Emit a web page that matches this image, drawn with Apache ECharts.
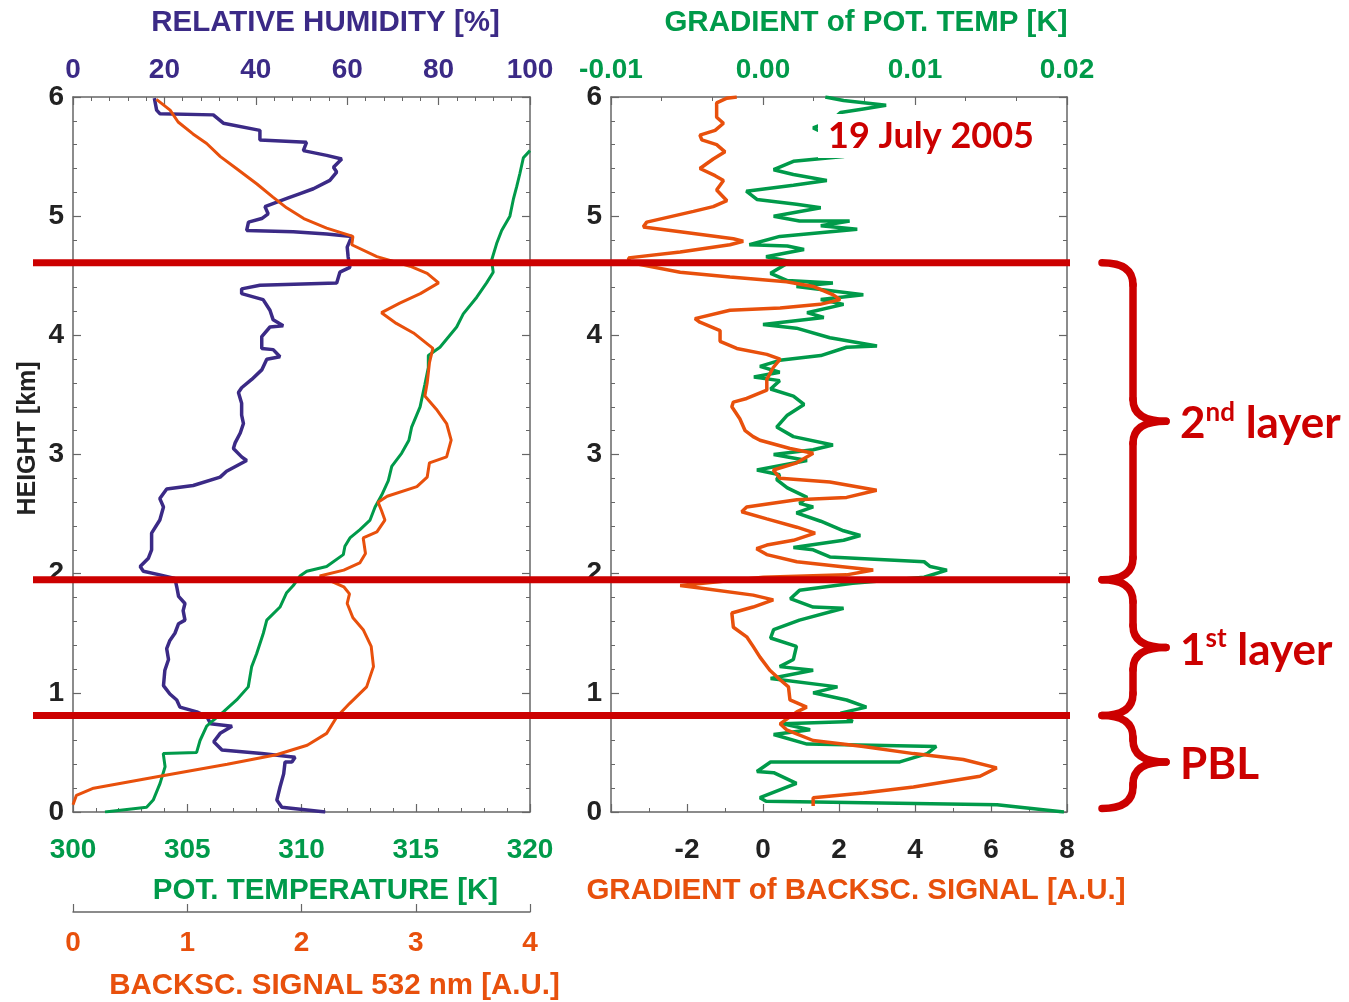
<!DOCTYPE html>
<html>
<head>
<meta charset="utf-8">
<script src="https://cdn.jsdelivr.net/npm/echarts@6/dist/echarts.min.js"></script>
<style>
  html, body { margin: 0; padding: 0; background: #fff; }
  #chart { width: 1349px; height: 1002px; }
</style>
</head>
<body>
<div id="chart"></div>
<script>
// 相对湿度 [%]
const rhHeight = [5.99, 5.89, 5.86, 5.85, 5.78, 5.72, 5.64, 5.62, 5.55, 5.51, 5.48, 5.41, 5.37, 5.30, 5.23, 5.19, 5.15, 5.08, 5.02, 4.98, 4.95, 4.88, 4.87, 4.85, 4.83, 4.74, 4.66, 4.57, 4.53, 4.44, 4.42, 4.39, 4.35, 4.30, 4.21, 4.13, 4.08, 4.07, 3.99, 3.89, 3.88, 3.82, 3.80, 3.71, 3.63, 3.56, 3.52, 3.43, 3.33, 3.26, 3.18, 3.10, 3.05, 2.98, 2.95, 2.86, 2.81, 2.74, 2.71, 2.63, 2.56, 2.45, 2.34, 2.20, 2.13, 2.06, 2.02, 1.99, 1.96, 1.89, 1.81, 1.75, 1.69, 1.61, 1.58, 1.50, 1.44, 1.37, 1.28, 1.19, 1.06, 0.99, 0.94, 0.88, 0.84, 0.80, 0.74, 0.72, 0.66, 0.59, 0.52, 0.49, 0.46, 0.42, 0.42, 0.32, 0.21, 0.10, 0.04, 0.00]
const rhValue = [17.8, 18.3, 19.0, 30.7, 32.9, 40.9, 40.9, 51.1, 50.4, 55.5, 58.8, 57.0, 57.7, 56.2, 52.6, 49.7, 46.8, 42.0, 42.7, 41.3, 38.4, 38.0, 48.2, 55.5, 61.0, 60.0, 60.2, 60.6, 58.4, 57.7, 40.9, 36.9, 36.9, 41.6, 43.1, 43.8, 46.0, 43.1, 41.3, 41.3, 43.8, 45.3, 42.4, 41.3, 39.1, 36.9, 36.2, 36.9, 36.9, 37.3, 36.6, 35.5, 35.1, 36.9, 38.0, 33.6, 32.2, 26.3, 20.5, 19.0, 19.8, 19.0, 17.2, 17.2, 16.5, 14.7, 15.4, 19.0, 22.3, 22.7, 23.1, 24.5, 24.1, 24.5, 23.1, 22.3, 21.2, 20.5, 20.9, 20.1, 19.8, 21.2, 22.7, 23.4, 27.1, 29.3, 30.1, 34.8, 32.2, 30.8, 32.6, 41.3, 48.6, 47.9, 46.4, 46.1, 45.3, 44.6, 45.7, 55.2]

// 位温 [K]
const tempHeight = [5.55, 5.49, 5.36, 5.25, 5.14, 5.00, 4.88, 4.77, 4.63, 4.53, 4.44, 4.32, 4.18, 4.07, 3.90, 3.83, 3.73, 3.59, 3.40, 3.23, 3.12, 3.01, 2.90, 2.78, 2.66, 2.56, 2.45, 2.37, 2.30, 2.23, 2.16, 2.06, 2.02, 1.98, 1.90, 1.84, 1.72, 1.61, 1.50, 1.33, 1.22, 1.05, 0.94, 0.84, 0.77, 0.72, 0.60, 0.50, 0.49, 0.38, 0.24, 0.10, 0.04, 0.00]
const tempValue = [320.0, 319.71, 319.56, 319.42, 319.27, 319.12, 318.76, 318.54, 318.32, 318.39, 318.10, 317.67, 317.08, 316.79, 316.06, 315.55, 315.55, 315.40, 315.19, 314.82, 314.70, 314.38, 313.95, 313.80, 313.51, 313.22, 313.00, 312.56, 312.12, 311.90, 311.83, 311.10, 310.23, 309.93, 309.64, 309.35, 309.06, 308.48, 308.33, 308.04, 307.82, 307.67, 307.16, 306.58, 306.14, 305.85, 305.56, 305.41, 303.95, 304.03, 303.81, 303.51, 303.22, 301.40]

// 后向散射信号 532 nm
const bsHeight = [5.98, 5.89, 5.79, 5.69, 5.61, 5.50, 5.40, 5.27, 5.16, 5.07, 4.98, 4.90, 4.83, 4.76, 4.66, 4.58, 4.52, 4.44, 4.35, 4.27, 4.19, 4.10, 4.02, 3.89, 3.77, 3.60, 3.49, 3.38, 3.26, 3.12, 2.98, 2.93, 2.81, 2.73, 2.65, 2.60, 2.53, 2.45, 2.35, 2.30, 2.17, 2.09, 2.03, 1.98, 1.89, 1.83, 1.75, 1.63, 1.53, 1.39, 1.22, 1.05, 0.91, 0.80, 0.66, 0.56, 0.48, 0.40, 0.30, 0.20, 0.14, 0.06]
const bsValue = [0.73, 0.85, 0.92, 1.05, 1.17, 1.29, 1.43, 1.61, 1.75, 1.87, 2.02, 2.22, 2.45, 2.44, 2.66, 2.95, 3.10, 3.20, 3.04, 2.86, 2.70, 2.83, 2.98, 3.15, 3.12, 3.10, 3.08, 3.18, 3.27, 3.31, 3.27, 3.12, 3.10, 3.01, 2.75, 2.67, 2.70, 2.73, 2.66, 2.54, 2.56, 2.51, 2.37, 2.16, 2.37, 2.42, 2.40, 2.45, 2.54, 2.61, 2.63, 2.57, 2.42, 2.31, 2.22, 2.05, 1.78, 1.35, 0.76, 0.18, 0.03, 0.00]

// 后向散射信号梯度
const gbHeight = [6.00, 5.99, 5.95, 5.83, 5.78, 5.72, 5.68, 5.64, 5.60, 5.54, 5.48, 5.40, 5.34, 5.30, 5.22, 5.13, 5.08, 5.04, 4.95, 4.91, 4.87, 4.81, 4.79, 4.76, 4.70, 4.65, 4.61, 4.53, 4.49, 4.45, 4.41, 4.34, 4.30, 4.26, 4.23, 4.21, 4.14, 4.11, 4.04, 3.95, 3.89, 3.84, 3.80, 3.73, 3.63, 3.54, 3.47, 3.44, 3.40, 3.30, 3.20, 3.15, 3.12, 3.05, 3.01, 2.93, 2.87, 2.80, 2.77, 2.70, 2.64, 2.62, 2.56, 2.52, 2.46, 2.39, 2.34, 2.28, 2.24, 2.21, 2.16, 2.10, 2.06, 2.03, 1.99, 1.97, 1.90, 1.88, 1.82, 1.78, 1.72, 1.67, 1.55, 1.47, 1.39, 1.30, 1.19, 1.11, 1.05, 0.94, 0.88, 0.84, 0.74, 0.69, 0.60, 0.55, 0.49, 0.44, 0.37, 0.30, 0.21, 0.16, 0.12, 0.05]
const gbValue = [-0.69, -0.95, -1.22, -1.22, -1.04, -1.26, -1.66, -1.61, -1.22, -1.00, -1.31, -1.66, -1.26, -1.04, -1.22, -0.95, -1.31, -1.83, -3.06, -3.15, -2.18, -0.78, -0.52, -0.87, -2.18, -3.54, -3.50, -2.18, -0.87, 0.62, 1.32, 1.85, 2.03, 1.50, 0.45, -0.87, -1.79, -1.66, -1.13, -1.13, -0.69, 0.10, 0.45, 0.27, 0.10, 0.10, -0.43, -0.78, -0.82, -0.61, -0.47, -0.26, -0.08, 0.71, 1.32, 0.89, 0.27, 0.45, 1.76, 2.99, 2.20, 0.89, -0.43, -0.56, 0.10, 0.89, 1.37, 0.80, 0.10, -0.17, 0.10, 0.89, 2.03, 2.90, 2.20, 0.01, -2.18, -1.66, -0.26, 0.27, -0.26, -0.82, -0.78, -0.43, -0.26, -0.08, 0.18, 0.45, 0.67, 0.71, 1.15, 0.89, 0.45, 0.62, 1.32, 2.64, 3.96, 5.27, 6.15, 5.71, 3.96, 2.64, 1.32, 1.32]

// 位温梯度 [K]
const gtHeight = [6.00, 5.97, 5.93, 5.90, 5.87, 5.80, 5.74, 5.65, 5.55, 5.50, 5.46, 5.39, 5.35, 5.30, 5.26, 5.21, 5.14, 5.10, 5.07, 5.00, 4.96, 4.96, 4.92, 4.89, 4.83, 4.76, 4.75, 4.72, 4.66, 4.62, 4.52, 4.46, 4.44, 4.41, 4.34, 4.30, 4.26, 4.19, 4.15, 4.09, 4.06, 3.98, 3.91, 3.90, 3.83, 3.79, 3.74, 3.69, 3.65, 3.62, 3.55, 3.49, 3.42, 3.33, 3.23, 3.15, 3.08, 3.04, 3.00, 2.95, 2.87, 2.83, 2.79, 2.72, 2.64, 2.59, 2.56, 2.51, 2.44, 2.36, 2.32, 2.28, 2.22, 2.20, 2.14, 2.10, 2.06, 2.03, 1.97, 1.92, 1.86, 1.79, 1.72, 1.71, 1.61, 1.53, 1.46, 1.39, 1.28, 1.22, 1.19, 1.12, 1.05, 1.00, 0.94, 0.88, 0.83, 0.76, 0.74, 0.69, 0.65, 0.57, 0.55, 0.49, 0.42, 0.42, 0.34, 0.33, 0.24, 0.12, 0.09, 0.06, 0.00]
const gtValue = [0.0041, 0.0053, 0.0081, 0.0066, 0.0051, 0.0045, 0.0033, 0.0048, 0.0058, 0.0053, 0.0020, 0.0007, 0.0020, 0.0042, 0.0020, -0.0011, -0.0004, 0.0022, 0.0038, 0.0007, 0.0024, 0.0057, 0.0038, 0.0062, 0.0011, -0.0009, 0.0016, 0.0027, 0.0002, 0.0018, 0.0005, 0.0016, 0.0046, 0.0022, 0.0066, 0.0038, 0.0053, 0.0029, 0.0040, 0.0000, 0.0022, 0.0044, 0.0075, 0.0055, 0.0038, 0.0011, -0.0002, 0.0011, -0.0006, 0.0011, 0.0005, 0.0020, 0.0027, 0.0016, 0.0009, 0.0020, 0.0046, 0.0033, 0.0007, 0.0029, -0.0004, 0.0011, 0.0009, 0.0016, 0.0029, 0.0024, 0.0033, 0.0022, 0.0038, 0.0053, 0.0064, 0.0053, 0.0020, 0.0033, 0.0044, 0.0106, 0.0110, 0.0121, 0.0106, 0.0059, 0.0024, 0.0018, 0.0033, 0.0053, 0.0024, 0.0007, 0.0005, 0.0022, 0.0020, 0.0011, 0.0033, 0.0005, 0.0049, 0.0033, 0.0055, 0.0068, 0.0051, 0.0059, 0.0013, 0.0031, 0.0007, 0.0029, 0.0114, 0.0108, 0.0090, 0.0005, -0.0004, 0.0007, 0.0022, -0.0002, 0.0002, 0.0154, 0.0198]

// 层顶高度 [km]
const layerTops = [0.81, 1.95, 4.61]
const layerBase = 0.03
const layerNames = ['PBL', '1st layer', '2nd layer']

const PURPLE = '#3b2a86'
const GREEN = '#009a4a'
const ORANGE = '#e8500c'
const RED = '#cc0000'
const DARK = '#222222'
const GRAY = '#666666'
const FONT = '"Liberation Sans", Arial, sans-serif'
const LABEL_FONT = 'Lato, "Open Sans", sans-serif'

const zip = (hs, vs) => hs.map((h, i) => [vs[i], h])

const labelStyle = (color, margin) => ({
  color: color, fontSize: 28, fontWeight: 'bold', fontFamily: FONT, margin: margin
})
// 轴标题在参考图中略向右偏
const nameStyle = (color, shift) => ({
  color: color, fontSize: 29.5, fontWeight: 'bold', fontFamily: FONT,
  padding: [0, 0, 0, shift * 2]
})
const lineAxis = { show: true, onZero: false, lineStyle: { color: GRAY, width: 1.5 } }
const tickAxis = { show: true, inside: true, length: 8, lineStyle: { color: GRAY, width: 1.2 } }
const minor = (n) => ({ show: true, splitNumber: n, length: 4, lineStyle: { color: GRAY, width: 1 } })

const chart = echarts.init(document.getElementById('chart'))

const option = {
  animation: false,
  backgroundColor: '#fff',
  grid: [
    { left: 73, top: 97, width: 457, height: 715, outerBoundsMode: 'none' },
    { left: 611, top: 97, width: 456, height: 715, outerBoundsMode: 'none' }
  ],
  xAxis: [
    {
      type: 'value', gridIndex: 0, position: 'top', min: 0, max: 100, interval: 20,
      name: 'RELATIVE HUMIDITY [%]', nameLocation: 'middle', nameGap: 59,
      nameTextStyle: nameStyle(PURPLE, 24),
      axisLine: lineAxis, axisTick: tickAxis, minorTick: minor(5),
      axisLabel: labelStyle(PURPLE, 13),
      splitLine: { show: false }
    },
    {
      type: 'value', gridIndex: 0, position: 'bottom', min: 300, max: 320, interval: 5,
      name: 'POT. TEMPERATURE [K]', nameLocation: 'middle', nameGap: 64,
      nameTextStyle: nameStyle(GREEN, 24),
      axisLine: lineAxis, axisTick: tickAxis, minorTick: minor(5),
      axisLabel: labelStyle(GREEN, 24),
      splitLine: { show: false }
    },
    {
      type: 'value', gridIndex: 0, position: 'bottom', offset: 100, min: 0, max: 4, interval: 1,
      name: 'BACKSC. SIGNAL 532 nm [A.U.]', nameLocation: 'middle', nameGap: 59,
      nameTextStyle: nameStyle(ORANGE, 33),
      axisLine: lineAxis, axisTick: tickAxis,
      axisLabel: labelStyle(ORANGE, 17),
      splitLine: { show: false }
    },
    {
      type: 'value', gridIndex: 1, position: 'top', min: -0.01, max: 0.02, interval: 0.01,
      name: 'GRADIENT of POT. TEMP [K]', nameLocation: 'middle', nameGap: 59,
      nameTextStyle: nameStyle(GREEN, 27),
      axisLine: lineAxis, axisTick: tickAxis, minorTick: minor(3),
      axisLabel: Object.assign(labelStyle(GREEN, 13), {
        formatter: v => (Math.abs(v) < 1e-9 ? 0 : v).toFixed(2)
      }),
      splitLine: { show: false }
    },
    {
      type: 'value', gridIndex: 1, position: 'bottom', min: -4, max: 8, interval: 2,
      name: 'GRADIENT of BACKSC. SIGNAL [A.U.]', nameLocation: 'middle', nameGap: 64,
      nameTextStyle: nameStyle(ORANGE, 17),
      axisLine: lineAxis, axisTick: tickAxis, minorTick: minor(2),
      axisLabel: Object.assign(labelStyle(DARK, 24), { showMinLabel: false }),
      splitLine: { show: false }
    }
  ],
  yAxis: [
    {
      type: 'value', gridIndex: 0, position: 'left', min: 0, max: 6, interval: 1,
      name: 'HEIGHT [km]', nameLocation: 'middle', nameGap: 32, nameRotate: 90,
      nameTextStyle: { color: DARK, fontSize: 25, fontWeight: 'bold', fontFamily: FONT, padding: [0, 0, 0, 32] },
      axisLine: lineAxis, axisTick: tickAxis, minorTick: minor(5),
      axisLabel: labelStyle(DARK, 9),
      splitLine: { show: false }
    },
    {
      type: 'value', gridIndex: 0, position: 'right', min: 0, max: 6, interval: 1,
      axisLine: lineAxis, axisTick: tickAxis, minorTick: minor(5),
      axisLabel: { show: false }, splitLine: { show: false }
    },
    {
      type: 'value', gridIndex: 1, position: 'left', min: 0, max: 6, interval: 1,
      axisLine: lineAxis, axisTick: tickAxis, minorTick: minor(5),
      axisLabel: labelStyle(DARK, 9),
      splitLine: { show: false }
    },
    {
      type: 'value', gridIndex: 1, position: 'right', min: 0, max: 6, interval: 1,
      axisLine: lineAxis, axisTick: tickAxis, minorTick: minor(5),
      axisLabel: { show: false }, splitLine: { show: false }
    }
  ],
  series: [
    {
      name: 'RH', type: 'line', xAxisIndex: 0, yAxisIndex: 0,
      data: zip(rhHeight, rhValue), showSymbol: false,
      lineStyle: { color: PURPLE, width: 3.5 }
    },
    {
      name: 'Pot. temperature', type: 'line', xAxisIndex: 1, yAxisIndex: 0,
      data: zip(tempHeight, tempValue), showSymbol: false,
      lineStyle: { color: GREEN, width: 3 }
    },
    {
      name: 'Backscatter', type: 'line', xAxisIndex: 2, yAxisIndex: 0,
      data: zip(bsHeight, bsValue), showSymbol: false,
      lineStyle: { color: ORANGE, width: 3 }
    },
    {
      name: 'Grad. pot. temp', type: 'line', xAxisIndex: 3, yAxisIndex: 2,
      data: zip(gtHeight, gtValue), showSymbol: false,
      lineStyle: { color: GREEN, width: 3.5 }
    },
    {
      name: 'Grad. backscatter', type: 'line', xAxisIndex: 4, yAxisIndex: 2,
      data: zip(gbHeight, gbValue), showSymbol: false,
      lineStyle: { color: ORANGE, width: 3.5 }
    }
  ]
}

chart.setOption(option)

// 层边界线和括号
const yPix = h => chart.convertToPixel({ yAxisIndex: 0 }, h)

const graphics = []
layerTops.forEach(h => {
  const y = yPix(h)
  graphics.push({
    type: 'line', z: 100,
    shape: { x1: 33, y1: y, x2: 1070, y2: y },
    style: { stroke: RED, lineWidth: 7 }
  })
})

const braceStyle = { stroke: RED, lineWidth: 7.5, fill: null, lineCap: 'round' }
const curve = (x1, y1, cx, cy, x2, y2) => ({
  type: 'bezierCurve', z: 100,
  shape: { x1: x1, y1: y1, x2: x2, y2: y2, cpx1: cx, cpy1: cy },
  style: braceStyle
})
const seg = (x1, y1, x2, y2) => ({
  type: 'line', z: 100,
  shape: { x1: x1, y1: y1, x2: x2, y2: y2 },
  style: braceStyle
})

const bounds = [layerBase].concat(layerTops)
const xa = 1102, xb = 1133, xc = 1166, r = 22
for (let i = 0; i < layerTops.length; i++) {
  const yBot = yPix(bounds[i])
  const yTop = yPix(bounds[i + 1])
  const yM = (yTop + yBot) / 2
  graphics.push(
    curve(xa, yTop, xb, yTop, xb, yTop + r),
    seg(xb, yTop + r, xb, yM - r),
    curve(xb, yM - r, xb, yM, xc, yM),
    curve(xc, yM, xb, yM, xb, yM + r),
    seg(xb, yM + r, xb, yBot - r),
    curve(xb, yBot - r, xb, yBot, xa, yBot)
  )

  const nm = layerNames[i]
  const m = nm.match(/^(\d)(st|nd)(.*)$/)
  const text = m ? `{a|${m[1]}}{s|${m[2]}}{a|${m[3]}}` : `{a|${nm}}`
  graphics.push({
    type: 'text', z: 100,
    x: 1180, y: yM + 3,
    style: {
      text: text,
      verticalAlign: 'middle',
      rich: {
        a: { fontSize: 44, fontWeight: 'bold', fontFamily: LABEL_FONT, fill: RED, lineHeight: 50 },
        s: { fontSize: 26, fontWeight: 'bold', fontFamily: LABEL_FONT, fill: RED, verticalAlign: 'top', lineHeight: 50 }
      }
    }
  })
}

graphics.push({
  type: 'text', z: 90,
  x: 818, y: 136,
  style: {
    text: '19 July 2005',
    fill: RED,
    fontSize: 36, fontWeight: 'bold', fontFamily: LABEL_FONT,
    verticalAlign: 'middle',
    backgroundColor: '#fff',
    padding: [4, 8, 4, 10]
  }
})

chart.setOption({ graphic: graphics })
</script>
</body>
</html>
